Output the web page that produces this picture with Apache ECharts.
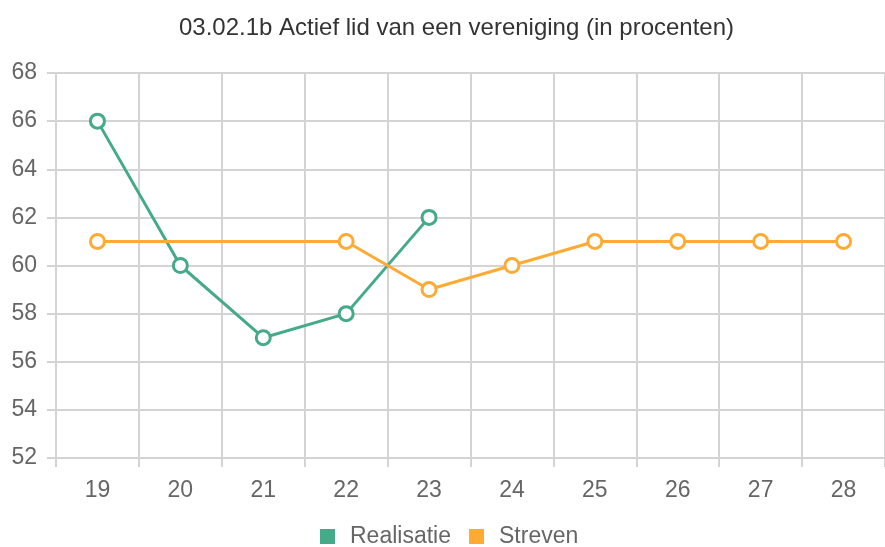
<!DOCTYPE html>
<html>
<head>
<meta charset="utf-8">
<script src="https://cdn.jsdelivr.net/npm/echarts@6/dist/echarts.min.js"></script>
<style>
html, body { margin: 0; padding: 0; background: #fff; }
#main { width: 885px; height: 547px; }
</style>
</head>
<body>
<div id="main"></div>
<script>
var categories = ['19', '20', '21', '22', '23', '24', '25', '26', '27', '28'];
var realisatie = [66, 60, 57, 58, 62, null, null, null, null, null];
var streven = [61, null, null, 61, 59, 60, 61, 61, 61, 61];

var green = '#44aa8a';
var orange = '#ffaa33';
var gridColor = '#d4d4d4';
var myChart = echarts.init(document.getElementById('main'));
var option = {
    backgroundColor: '#fff',
    title: {
        text: '03.02.1b Actief lid van een vereniging (in procenten)',
        left: 174,
        top: 11,
        textStyle: { fontFamily: 'Liberation Sans', fontSize: 24, fontWeight: 'normal', color: '#333' }
    },
    legend: {
        left: 320,
        top: 525,
        padding: 0,
        itemWidth: 15,
        itemHeight: 15,
        itemGap: 18,
        icon: 'rect',
        textStyle: { fontFamily: 'Liberation Sans', fontSize: 23, color: '#666', padding: [0, 0, 0, 10] },
        data: [
            { name: 'Realisatie', itemStyle: { color: green, borderWidth: 0 } },
            { name: 'Streven', itemStyle: { color: orange, borderWidth: 0 } }
        ]
    },
    grid: { left: 56, right: -4, top: 73, bottom: 89, containLabel: false },
    xAxis: {
        type: 'category',
        data: categories,
        boundaryGap: true,
        axisLine: { lineStyle: { color: gridColor, width: 2 } },
        axisTick: { show: true, length: 9, lineStyle: { color: gridColor, width: 2 } },
        axisLabel: { fontFamily: 'Liberation Sans', fontSize: 23, color: '#666', margin: 21 },
        splitLine: { show: true, lineStyle: { color: gridColor, width: 2 } }
    },
    yAxis: {
        type: 'value',
        min: 52,
        max: 68,
        interval: 2,
        axisLine: { show: true, lineStyle: { color: gridColor, width: 2 } },
        axisTick: { show: true, length: 9, lineStyle: { color: gridColor, width: 2 } },
        axisLabel: { fontFamily: 'Liberation Sans', fontSize: 23, color: '#666', margin: 19 },
        splitLine: { show: true, lineStyle: { color: gridColor, width: 2 } }
    },
    series: [{
        name: 'Realisatie',
        type: 'line',
        data: realisatie,
        symbol: 'circle',
        symbolSize: 14,
        connectNulls: true,
        lineStyle: { width: 3, color: green },
        itemStyle: { color: '#fff', borderColor: green, borderWidth: 3 }
    }, {
        name: 'Streven',
        type: 'line',
        data: streven,
        symbol: 'circle',
        symbolSize: 14,
        connectNulls: true,
        lineStyle: { width: 3, color: orange },
        itemStyle: { color: '#fff', borderColor: orange, borderWidth: 3 }
    }]
};
myChart.setOption(option);
</script>
</body>
</html>
